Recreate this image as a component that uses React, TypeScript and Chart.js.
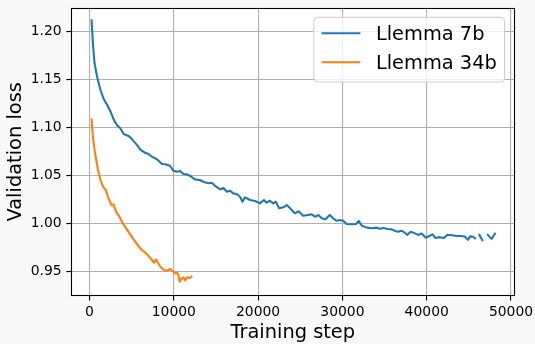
import React, { useEffect, useRef } from "react";
import { Chart, registerables } from "chart.js";

Chart.register(...registerables);

// ---- data ----
const X_TICKS = [0, 10000, 20000, 30000, 40000, 50000];
const Y_TICKS = [0.95, 1.0, 1.05, 1.1, 1.15, 1.2];
const X_MIN = -2160;
const X_MAX = 50390;
const Y_MIN = 0.9246;
const Y_MAX = 1.2243;

const SERIES_NAMES = ["Llemma 7b", "Llemma 34b"];
const SERIES_COLORS = ["#1f77b4", "#ff7f0e"];
const X_TITLE = "Training step";
const Y_TITLE = "Validation loss";

const STEPS_7B = [
  250, 400, 600, 900, 1300, 1700, 2100, 2500, 2900, 3250, 3650, 4050, 4650, 5050, 5650,
  6050, 6600, 7000, 7400, 8000, 8600, 9000, 9550, 9950, 10350, 10750, 11150, 11550, 11950,
  12500, 13100, 13500, 14100, 14500, 14900, 15500, 15900, 16300, 16650, 17050, 17450, 17850,
  18150, 18450, 19050, 19650, 20200, 20700, 21000, 21400, 21800, 22100, 22500, 23000, 23400,
  23800, 24350, 24800, 25350, 25950, 26350, 26750, 27150, 27550, 28000, 28500, 28900, 29300,
  29700, 30100, 30500, 31100, 31600, 31950, 32300, 32900, 33450, 34050, 34450, 34850, 35350,
  35850, 36250, 36600, 37000, 37400, 37700, 38100, 38600, 39000, 39400, 39900, 40300, 40700,
  41000, 41550, 42050, 42450, 42950, 43550, 44050, 44500, 44900, 45150, 45500, 45750, 46000,
  46250, 46600, 46850, 47250, 47700, 48100,
];
const LOSS_7B = [
  1.2115, 1.1875, 1.1667, 1.1527, 1.1389, 1.1292, 1.1232, 1.1163, 1.1076, 1.1024, 1.099, 1.093,
  1.091, 1.0875, 1.0815, 1.0764, 1.0735, 1.0722, 1.0694, 1.0667, 1.0618, 1.0615, 1.06, 1.0548,
  1.0537, 1.0545, 1.0514, 1.051, 1.0493, 1.0458, 1.0451, 1.0433, 1.0417, 1.0423, 1.0389, 1.0354,
  1.0368, 1.0329, 1.034, 1.0312, 1.0305, 1.0277, 1.0225, 1.0271, 1.0243, 1.0232, 1.0208, 1.0243,
  1.0215, 1.0235, 1.0208, 1.0225, 1.0156, 1.0167, 1.019, 1.0156, 1.0105, 1.0125, 1.0079, 1.0086,
  1.0094, 1.0069, 1.0086, 1.0052, 1.0042, 1.0086, 1.0052, 1.0027, 1.0034, 1.0027, 0.9993, 0.999,
  0.9993, 1.0024, 0.9975, 0.9955, 0.9948, 0.9955, 0.9944, 0.9951, 0.994, 0.9937, 0.992, 0.9912,
  0.9923, 0.9902, 0.988, 0.9912, 0.9895, 0.988, 0.9893, 0.985, 0.9868, 0.9885, 0.9848, 0.9856,
  0.9846, 0.988, 0.9875, 0.9868, 0.9868, 0.9862, 0.9828, 0.9864, 0.986, 0.9844, null, 0.988,
  0.9823, null, 0.988, 0.9838, 0.9893,
];

const STEPS_34B = [
  250, 400, 600, 800, 1000, 1300, 1600, 1950, 2200, 2600, 2850, 3150, 3550, 3950, 4350, 4750,
  5200, 5800, 6200, 6600, 7000, 7400, 7650, 7900, 8150, 8450, 8750, 9050, 9350, 9550, 9850,
  10150, 10350, 10550, 10700, 10950, 11150, 11350, 11550, 11850, 12100,
];
const LOSS_34B = [
  1.1083, 1.0902, 1.0763, 1.066, 1.0555, 1.0451, 1.0382, 1.0347, 1.0271, 1.0191, 1.0198, 1.0121,
  1.0069, 1.0, 0.9948, 0.9896, 0.9835, 0.9764, 0.9722, 0.9698, 0.966, 0.9618, 0.959, 0.9625,
  0.9583, 0.9542, 0.9521, 0.9506, 0.9514, 0.9524, 0.9506, 0.9479, 0.949, 0.9461, 0.9392, 0.9427,
  0.9438, 0.9405, 0.9438, 0.943, 0.9444,
];

// ---- styling ----
const FONT = "DejaVu Sans";
const TICK_SIZE = 13.9;
const LABEL_SIZE = 19.4;
const PAGE_BG = "#f8f8f8";

const toXY = (xs: number[], ys: (number | null)[]) => xs.map((x, i) => ({ x, y: ys[i] }));

const axesBg = {
  id: "axesBg",
  beforeDraw(chart: any) {
    const { ctx, chartArea: a } = chart;
    ctx.save();
    ctx.fillStyle = PAGE_BG;
    ctx.fillRect(0, 0, chart.width, chart.height);
    ctx.fillStyle = "#ffffff";
    ctx.fillRect(a.left, a.top, a.right - a.left, a.bottom - a.top);
    ctx.restore();
  },
};

const spines = {
  id: "spines",
  afterDatasetsDraw(chart: any) {
    const { ctx, chartArea: a } = chart;
    ctx.save();
    ctx.strokeStyle = "#000";
    ctx.lineWidth = 1.1;
    const l = Math.floor(a.left) + 0.5;
    const r = Math.floor(a.right) + 0.5;
    const t = Math.floor(a.top) + 0.5;
    const b = Math.floor(a.bottom) + 0.5;
    ctx.strokeRect(l, t, r - l, b - t);
    ctx.restore();
  },
};

const mplLegend = {
  id: "mplLegend",
  afterDraw(chart: any) {
    const { ctx, chartArea: a } = chart;
    const fs = LABEL_SIZE;
    ctx.save();
    ctx.font = `${fs}px "${FONT}"`;
    const labels = chart.data.datasets.map((d: any) => d.label);
    const textW = Math.max(...labels.map((t: string) => ctx.measureText(t).width));
    const pad = 0.4 * fs;
    const handle = 2.0 * fs;
    const gap = 0.8 * fs;
    const w = pad * 2 + handle + gap + textW;
    const h = 64.7;
    const right = a.right - 0.5 * fs;
    const top = a.top + 0.48 * fs;
    const left = right - w;
    ctx.beginPath();
    if ((ctx as any).roundRect) (ctx as any).roundRect(left, top, w, h, 0.2 * fs);
    else ctx.rect(left, top, w, h);
    ctx.fillStyle = "rgba(255,255,255,0.8)";
    ctx.fill();
    ctx.strokeStyle = "#cccccc";
    ctx.lineWidth = 1;
    ctx.stroke();
    const rowY = [top + 16, top + 45];
    chart.data.datasets.forEach((d: any, i: number) => {
      const y = rowY[i];
      ctx.beginPath();
      ctx.strokeStyle = d.borderColor;
      ctx.lineWidth = 2.08;
      ctx.lineCap = "butt";
      ctx.moveTo(left + pad, y);
      ctx.lineTo(left + pad + handle, y);
      ctx.stroke();
      ctx.fillStyle = "#000";
      ctx.textBaseline = "alphabetic";
      ctx.textAlign = "left";
      ctx.fillText(d.label, left + pad + handle + gap, y + 0.3645 * fs);
    });
    ctx.restore();
  },
};

export default function App() {
  const ref = useRef<HTMLCanvasElement | null>(null);

  useEffect(() => {
    if (!ref.current) return;
    const chart = new Chart(ref.current, {
      type: "line",
      data: {
        datasets: [
          {
            label: SERIES_NAMES[0],
            data: toXY(STEPS_7B, LOSS_7B) as any,
            borderColor: SERIES_COLORS[0],
            backgroundColor: SERIES_COLORS[0],
            borderWidth: 2.08,
            pointRadius: 0,
            tension: 0,
            spanGaps: false,
            borderCapStyle: "square",
            borderJoinStyle: "round",
            order: 1,
          },
          {
            label: SERIES_NAMES[1],
            data: toXY(STEPS_34B, LOSS_34B) as any,
            borderColor: SERIES_COLORS[1],
            backgroundColor: SERIES_COLORS[1],
            borderWidth: 2.08,
            pointRadius: 0,
            tension: 0,
            spanGaps: false,
            borderCapStyle: "square",
            borderJoinStyle: "round",
            order: 0,
          },
        ],
      },
      options: {
        responsive: false,
        animation: false,
        devicePixelRatio: 1,
        layout: { padding: { left: 0, top: 8, right: 20.7, bottom: 0 } },
        plugins: {
          legend: { display: false },
          tooltip: { enabled: false },
        },
        scales: {
          x: {
            type: "linear",
            min: X_MIN,
            max: X_MAX,
            afterBuildTicks: (s: any) => {
              s.ticks = X_TICKS.map((v) => ({ value: v }));
            },
            afterFit: (s: any) => {
              s.height = 48.3;
              s.paddingLeft = 0;
              s.paddingRight = 0;
            },
            ticks: {
              autoSkip: false,
              maxRotation: 0,
              padding: 3.8,
              color: "#000",
              font: { family: FONT, size: TICK_SIZE },
              callback: (v: any) => String(v),
            },
            grid: {
              color: "#b0b0b0",
              lineWidth: 1.1,
              drawTicks: true,
              tickLength: 4.9,
              tickColor: "#000",
              tickWidth: 1.1,
            },
            border: { display: false },
            title: {
              display: true,
              text: X_TITLE,
              color: "#000",
              font: { family: FONT, size: LABEL_SIZE },
              padding: { top: 0, bottom: -1 },
            },
          },
          y: {
            type: "linear",
            min: Y_MIN,
            max: Y_MAX,
            afterBuildTicks: (s: any) => {
              s.ticks = Y_TICKS.map((v) => ({ value: v }));
            },
            afterFit: (s: any) => {
              s.width = 71.3;
              s.paddingTop = 0;
              s.paddingBottom = 0;
            },
            ticks: {
              autoSkip: false,
              padding: 4.7,
              color: "#000",
              font: { family: FONT, size: TICK_SIZE },
              callback: (v: any) => Number(v).toFixed(2),
            },
            grid: {
              color: "#b0b0b0",
              lineWidth: 1.1,
              drawTicks: true,
              tickLength: 4.9,
              tickColor: "#000",
              tickWidth: 1.1,
            },
            border: { display: false },
            title: {
              display: true,
              text: Y_TITLE,
              color: "#000",
              font: { family: FONT, size: LABEL_SIZE },
              padding: { top: 4.4, bottom: 0 },
            },
          },
        },
      },
      plugins: [axesBg, spines, mplLegend],
    });
    return () => chart.destroy();
  }, []);

  return (
    <div
      style={{
        position: "absolute",
        left: 0,
        top: 0,
        width: 535,
        height: 344,
        background: PAGE_BG,
      }}
    >
      <canvas ref={ref} width={535} height={344} style={{ display: "block", width: 535, height: 344 }} />
    </div>
  );
}
